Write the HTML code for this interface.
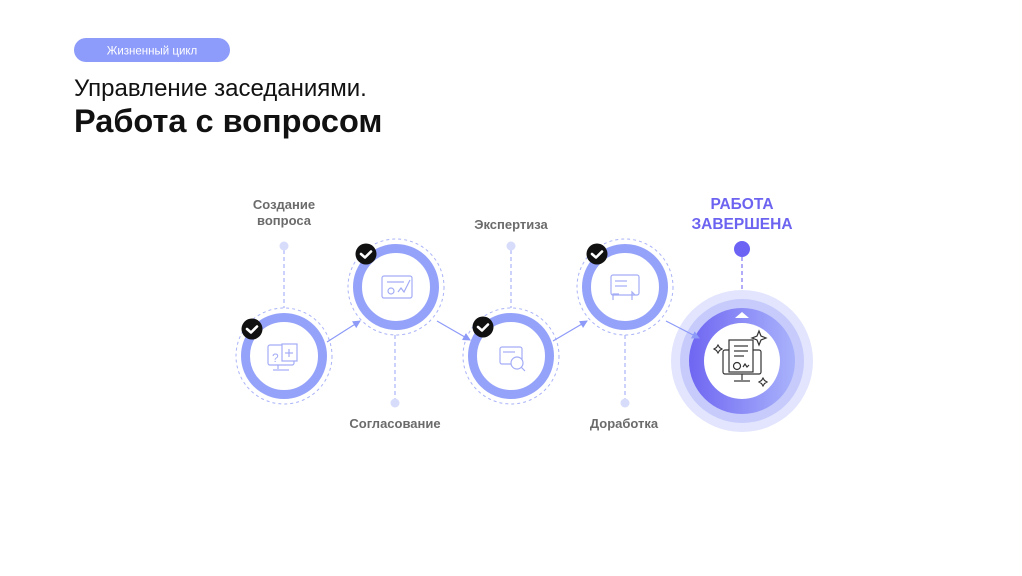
<!DOCTYPE html>
<html><head><meta charset="utf-8"><style>
html,body{margin:0;padding:0;background:#fff;}
body{width:1022px;height:576px;position:relative;overflow:hidden;font-family:"Liberation Sans",Arial,sans-serif;}
</style></head><body>
<svg width="1022" height="576" viewBox="0 0 1022 576" xmlns="http://www.w3.org/2000/svg" style="position:absolute;left:0;top:0;font-family:'Liberation Sans',Arial,sans-serif">
<defs>
<linearGradient id="g" x1="0" y1="0" x2="1" y2="0">
<stop offset="0" stop-color="#6f66f2"/><stop offset="1" stop-color="#a9b3fb"/></linearGradient>
<marker id="ar" markerWidth="8" markerHeight="8" refX="7" refY="4" orient="auto" markerUnits="userSpaceOnUse"><path d="M0,0 L8,4 L0,8z" fill="#8d9af8"/></marker>
</defs>
<rect x="74" y="38" width="156" height="24" rx="12" fill="#8d9bfa"/>
<text x="152" y="54.5" font-size="11.5" fill="#fff" text-anchor="middle">Жизненный цикл</text>
<text x="74" y="96" font-size="24" fill="#111">Управление заседаниями.</text>
<text x="74" y="132" font-size="32.5" font-weight="bold" fill="#111">Работа с вопросом</text>

<g font-size="13" font-weight="bold" fill="#6b6b6b" text-anchor="middle">
<text x="284" y="209">Создание</text><text x="284" y="225">вопроса</text>
<text x="395" y="428">Согласование</text>
<text x="511" y="229">Экспертиза</text>
<text x="624" y="428">Доработка</text>
</g>
<g font-size="15.5" font-weight="bold" fill="#6c63f0" text-anchor="middle">
<text x="742" y="209">РАБОТА</text><text x="742" y="229">ЗАВЕРШЕНА</text>
</g>

<g stroke="#a9b3f8" stroke-width="1.2" stroke-dasharray="4,3" fill="none">
<line x1="284" y1="250" x2="284" y2="310"/>
<line x1="395" y1="335" x2="395" y2="400"/>
<line x1="511" y1="250" x2="511" y2="310"/>
<line x1="625" y1="335" x2="625" y2="400"/>
<line x1="742" y1="257" x2="742" y2="292" stroke="#7d74f2"/>
</g>
<g fill="#d7dcfb">
<circle cx="284" cy="246" r="4.5"/><circle cx="395" cy="403" r="4.5"/>
<circle cx="511" cy="246" r="4.5"/><circle cx="625" cy="403" r="4.5"/>
</g>
<circle cx="742" cy="249" r="8" fill="#6c63f5"/>

<g>
<circle cx="284" cy="356" r="48" fill="#fff" stroke="#a9b3f8" stroke-width="1" stroke-dasharray="3,3"/>
<circle cx="284" cy="356" r="38.5" fill="#fff" stroke="#95a2fa" stroke-width="9"/>
<circle cx="396" cy="287" r="48" fill="#fff" stroke="#a9b3f8" stroke-width="1" stroke-dasharray="3,3"/>
<circle cx="396" cy="287" r="38.5" fill="#fff" stroke="#95a2fa" stroke-width="9"/>
<circle cx="511" cy="356" r="48" fill="#fff" stroke="#a9b3f8" stroke-width="1" stroke-dasharray="3,3"/>
<circle cx="511" cy="356" r="38.5" fill="#fff" stroke="#95a2fa" stroke-width="9"/>
<circle cx="625" cy="287" r="48" fill="#fff" stroke="#a9b3f8" stroke-width="1" stroke-dasharray="3,3"/>
<circle cx="625" cy="287" r="38.5" fill="#fff" stroke="#95a2fa" stroke-width="9"/>
</g>

<g stroke="#a3acf5" stroke-width="1.2" fill="none">
<rect x="268" y="345" width="26" height="20" rx="2"/><line x1="278" y1="365" x2="278" y2="369"/><line x1="273" y1="370" x2="289" y2="370"/>
<rect x="282" y="344" width="15" height="17" fill="#fff"/><text x="272" y="362" font-size="12" fill="#a3acf5" stroke="none">?</text><line x1="289" y1="349" x2="289" y2="357"/><line x1="285" y1="353" x2="293" y2="353"/>
<rect x="382" y="276" width="30" height="22" rx="2"/><line x1="387" y1="282" x2="404" y2="282"/><circle cx="391" cy="291" r="3"/><path d="M398 292l3-4 3 4 6-12"/>
<rect x="500" y="347" width="22" height="17" rx="2"/><circle cx="517" cy="363" r="6" fill="#fff"/><line x1="521" y1="367" x2="525" y2="371"/><line x1="503" y1="352" x2="515" y2="352"/>
<rect x="611" y="275" width="28" height="20" rx="2"/><line x1="615" y1="281" x2="627" y2="281"/><line x1="615" y1="286" x2="627" y2="286"/><path d="M613 300v-6h6M632 300v-8l3 3"/>
</g>

<g>
<circle cx="252" cy="329" r="10.5" fill="#111"/><circle cx="366" cy="254" r="10.5" fill="#111"/>
<circle cx="483" cy="327" r="10.5" fill="#111"/><circle cx="597" cy="254" r="10.5" fill="#111"/>
<g stroke="#fff" stroke-width="2.6" fill="none" stroke-linecap="round" stroke-linejoin="round">
<path d="M247 329l4 3.5 6-6"/><path d="M361 254l4 3.5 6-6"/><path d="M478 327l4 3.5 6-6"/><path d="M592 254l4 3.5 6-6"/>
</g>
</g>

<circle cx="742" cy="361" r="71" fill="#e2e5fd"/>
<circle cx="742" cy="361" r="62" fill="#c6cbfb"/>
<circle cx="742" cy="361" r="53" fill="url(#g)"/>
<circle cx="742" cy="361" r="38" fill="#fff"/>
<path d="M735 318l7-6 7 6z" fill="#fff"/>
<g stroke="#333" stroke-width="1.2" fill="none">
<rect x="723" y="350" width="38" height="24" rx="2"/><line x1="742" y1="374" x2="742" y2="380"/><line x1="734" y1="381" x2="750" y2="381"/>
<rect x="729" y="340" width="24" height="32" fill="#fff"/>
<line x1="734" y1="346" x2="748" y2="346"/><line x1="734" y1="351" x2="748" y2="351"/><line x1="734" y1="356" x2="744" y2="356"/>
<circle cx="737" cy="366" r="3.5"/><path d="M743 367l2-3 2 3 2-2"/>
<path d="M759 331l2 5 5 2-5 2-2 5-2-5-5-2 5-2z"/>
<path d="M718 345l1.5 2.5 2.5 1.5-2.5 1.5-1.5 2.5-1.5-2.5-2.5-1.5 2.5-1.5z"/>
<path d="M763 378l1.5 2.5 2.5 1.5-2.5 1.5-1.5 2.5-1.5-2.5-2.5-1.5 2.5-1.5z"/>
</g>

<g stroke="#8d9af8" stroke-width="1.2" marker-end="url(#ar)">
<line x1="327" y1="342" x2="360" y2="321"/>
<line x1="437" y1="321" x2="470" y2="340"/>
<line x1="553" y1="341" x2="587" y2="321"/>
<line x1="666" y1="321" x2="699" y2="338"/>
</g>
</svg>
</body></html>
